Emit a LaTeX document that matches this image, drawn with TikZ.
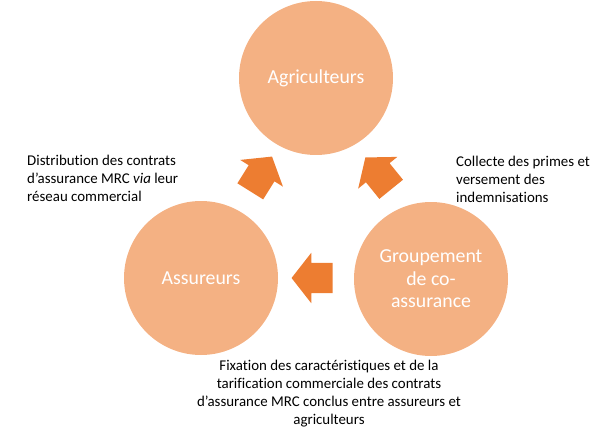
\documentclass[tikz,border=0pt]{standalone}
\usepackage{fontspec}
\setmainfont{Carlito}[Ligatures = NoCommon]
\usepackage{tikz}
\usetikzlibrary{positioning}
\usetikzlibrary{shapes.arrows}
\definecolor{circlefill}{HTML}{F4B183}
\definecolor{arrowfill}{HTML}{ED7D31}
\tikzstyle{actor} = [circle, fill = circlefill, minimum size = 154pt, inner sep = 0, text = white, align = center, font = \fontsize{19.8}{22.5}\selectfont]
\tikzstyle{flow} = [single arrow, fill = arrowfill, minimum height = 41pt, inner xsep = 0, inner ysep = 15pt, single arrow head extend = 10pt, single arrow tip angle = 104]
\tikzstyle{legend} = [inner sep = 0, font = \fontsize{14.9}{18}\selectfont]
\tikzstyle{diagram picture} = [x = 1pt, y = -1pt]

\begin{document}
\begin{tikzpicture}[diagram picture]
    \useasboundingbox (0, 0) rectangle (606, 428);
    \node [actor] (agri) at (316, 78) {Agriculteurs};
    \node [actor] (assur) at (201, 278) {Assureurs};
    \node [actor] (group) at (431, 279) {Groupement\\de co-\\assurance};
    \node [flow, rotate = 58] (distrib) at (258, 179) {};
    \node [flow, rotate = 129] (collect) at (382, 178) {};
    \node [flow, rotate = 180] (tarif) at (318, 278) {};
    \node [legend, anchor = north west, align = left] (distrib text) at (27, 155)
        {Distribution des contrats\\d’assurance MRC \emph{via} leur\\réseau commercial};
    \node [legend, anchor = north west, align = left] (collect text) at (456, 156)
        {Collecte des primes et\\versement des\\indemnisations};
    \node [legend, anchor = north, align = center] (tarif text) at (329, 360)
        {Fixation des caractéristiques et de la\\tarification commerciale des contrats\\d’assurance MRC conclus entre assureurs et\\agriculteurs};
\end{tikzpicture}
\end{document}
